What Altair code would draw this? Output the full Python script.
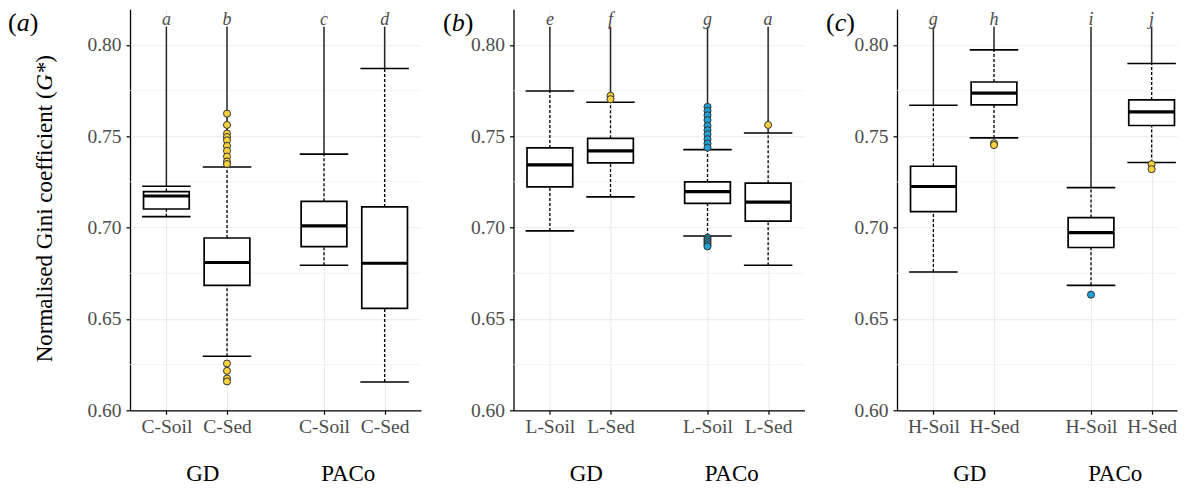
import altair as alt
import pandas as pd

FONT = "Liberation Serif"

# ---------------- data ----------------
prefixes = ["C", "L", "H"]          # panel (a), (b), (c)
tags = ["a", "b", "c"]
methods = ["GD", "PACo"]
types = ["Soil", "Sed"]

# box order per panel: GD-Soil, GD-Sed, PACo-Soil, PACo-Sed
letters = ["a", "b", "c", "d",
           "e", "f", "g", "a",
           "g", "h", "i", "j"]
whisker_low = [0.7060, 0.6296, 0.6794, 0.6155,
               0.6982, 0.7168, 0.6954, 0.6794,
               0.6757, 0.7491, 0.6684, 0.7356]
q1 = [0.7102, 0.6684, 0.6896, 0.6558,
      0.7223, 0.7354, 0.7133, 0.7036,
      0.7088, 0.7672, 0.6891, 0.7559]
median = [0.7173, 0.6809, 0.7009, 0.6805,
          0.7343, 0.7420, 0.7197, 0.7140,
          0.7225, 0.7736, 0.6973, 0.7633]
q3 = [0.7197, 0.6943, 0.7144, 0.7113,
      0.7436, 0.7489, 0.7250, 0.7243,
      0.7336, 0.7797, 0.7055, 0.7699]
whisker_high = [0.7226, 0.7332, 0.7402, 0.7871,
                0.7748, 0.7686, 0.7427, 0.7518,
                0.7670, 0.7973, 0.7219, 0.7898]
outliers = [
    [],
    [0.7624, 0.7562, 0.7515, 0.7496, 0.7478, 0.7447, 0.7420, 0.7389, 0.7362, 0.7348,
     0.6256, 0.6216, 0.6174, 0.6158],
    [],
    [],
    [],
    [0.7721, 0.7703],
    [0.7661, 0.7639, 0.7615, 0.7589, 0.7557, 0.7533, 0.7511, 0.7484, 0.7460, 0.7438,
     0.6945, 0.6935, 0.6925, 0.6915, 0.6905, 0.6897],
    [0.7562],
    [],
    [0.7462, 0.7452],
    [0.6633],
    [0.7347, 0.7320],
]

y_ticks = [0.60, 0.65, 0.70, 0.75, 0.80]
y_minor = [0.625, 0.675, 0.725, 0.775]

YELLOW = "#F8D13F"
BLUE = "#1FA2D6"

# ---------------- layout constants ----------------
Y_DOMAIN = [0.60, 0.8195]
X_MIN, X_SPAN = 0.4, 4.8
GROUP_GAP = 2.6
LINE_TOP = 0.8100
LETTER_Y = 0.8108
W_FULL = 291
WIDTHS = [291, 291, 280]   # last panel is cut at the right edge of the figure
H = 401
SPACING = 92.5
TAG_X = [-122, -70.5, -71]
TAG_W = {"a": 0.5, "b": 0.5, "c": 0.444}


def slot(m, t):
    return 1 + GROUP_GAP * m + t


positions = [slot(m, t) for m in range(2) for t in range(2)]

rows = []
out_rows = []
for i in range(12):
    p, m, t = i // 4, (i % 4) // 2, i % 2
    rows.append(dict(panel=p, pos=slot(m, t), letter=letters[i],
                     low=whisker_low[i], q1=q1[i], med=median[i], q3=q3[i],
                     high=whisker_high[i], method=methods[m], type=types[t]))
    col = BLUE if (methods[m] == "PACo" and types[t] == "Soil") else YELLOW
    for v in outliers[i]:
        out_rows.append(dict(panel=p, pos=slot(m, t), value=v, fill=col))
boxes = pd.DataFrame(rows)
outs = pd.DataFrame(out_rows)


def make_panel(p):
    pre = prefixes[p]
    w = WIDTHS[p]
    x_max = X_MIN + X_SPAN * w / W_FULL
    label_expr = (f"'{pre}-' + ((datum.value < 1.5 || (datum.value > 3 && datum.value < 4))"
                  " ? 'Soil' : 'Sed')")
    xaxis = alt.Axis(values=positions, labelExpr=label_expr, title=None, grid=True,
                     labelPadding=3)
    yaxis = alt.Axis(values=y_ticks, format=".2f", title=None, grid=True, labelPadding=5)
    xs = alt.Scale(domain=[X_MIN, x_max], nice=False, zero=False)
    ys = alt.Scale(domain=Y_DOMAIN, nice=False, zero=False)

    def X(f):
        return alt.X(f"{f}:Q", scale=xs, axis=xaxis)

    def Y(f):
        return alt.Y(f"{f}:Q", scale=ys, axis=yaxis)

    bdf = boxes[boxes.panel == p]
    odf = outs[outs.panel == p]
    base = alt.Chart(bdf).transform_calculate(
        top=f"{LINE_TOP}", ly=f"{LETTER_Y}",
        blo="datum.pos - 0.377", bhi="datum.pos + 0.377",
        clo="datum.pos - 0.40", chi="datum.pos + 0.40")

    minor = alt.Chart(pd.DataFrame({"v": y_minor})).mark_rule(
        color="#f0f0f0", strokeWidth=0.8).encode(y=Y("v"))

    top_line = base.mark_rule(color="#262626", strokeWidth=1.5).encode(
        x=X("pos"), y=Y("high"), y2="top:Q")
    wh_up = base.mark_rule(color="black", strokeWidth=1.3, strokeDash=[3, 2]).encode(
        x=X("pos"), y=Y("q3"), y2="high:Q")
    wh_lo = base.mark_rule(color="black", strokeWidth=1.3, strokeDash=[3, 2]).encode(
        x=X("pos"), y=Y("low"), y2="q1:Q")
    cap_up = base.mark_rule(color="black", strokeWidth=1.6).encode(
        x=X("clo"), x2="chi:Q", y=Y("high"))
    cap_lo = base.mark_rule(color="black", strokeWidth=1.6).encode(
        x=X("clo"), x2="chi:Q", y=Y("low"))
    box = base.mark_rect(fill="white", stroke="black", strokeWidth=1.7).encode(
        x=X("blo"), x2="bhi:Q", y=Y("q1"), y2="q3:Q")
    med = base.mark_rule(color="black", strokeWidth=3.2).encode(
        x=X("blo"), x2="bhi:Q", y=Y("med"))
    pts = alt.Chart(odf).mark_circle(size=50, opacity=1, stroke="#333333",
                                     strokeWidth=1).encode(
        x=X("pos"), y=Y("value"), fill=alt.Fill("fill:N", scale=None))
    lets = base.mark_text(font=FONT, fontStyle="italic", fontSize=18, color="#4d4d4d",
                          baseline="alphabetic").encode(
        x=X("pos"), y=Y("ly"), text="letter:N")

    grp = alt.Chart(pd.DataFrame({"g": methods, "gx": [1.6, 4.0]})).mark_text(
        font=FONT, fontSize=23, color="black", baseline="alphabetic").encode(
        x=X("gx"), y=alt.value(H + 70.5), text="g:N")

    fs = 26
    ty = 21.5
    tx = TAG_X[p]
    tag_style = dict(font=FONT, fontSize=fs, color="black", baseline="alphabetic",
                     align="left")
    tag1 = alt.Chart(pd.DataFrame({"s": ["("]})).mark_text(**tag_style).encode(
        x=alt.value(tx), y=alt.value(ty), text="s:N")
    tag2 = alt.Chart(pd.DataFrame({"s": [tags[p]]})).mark_text(
        fontStyle="italic", **tag_style).encode(
        x=alt.value(tx + 0.333 * fs), y=alt.value(ty), text="s:N")
    tag3 = alt.Chart(pd.DataFrame({"s": [")"]})).mark_text(**tag_style).encode(
        x=alt.value(tx + (0.333 + TAG_W[tags[p]]) * fs), y=alt.value(ty), text="s:N")

    layers = [minor, top_line, wh_up, wh_lo, cap_up, cap_lo, box, med, pts, lets, grp,
              tag1, tag2, tag3]

    if p == 0:
        tstyle = dict(font=FONT, fontSize=23, color="black", baseline="alphabetic",
                      align="left", angle=270)
        start = 353.0
        w1 = 11.803 * 23
        w2 = 1.222 * 23
        t1 = alt.Chart(pd.DataFrame({"s": ["Normalised Gini coefficient ("]})).mark_text(
            **tstyle).encode(x=alt.value(-78), y=alt.value(start), text="s:N")
        t2 = alt.Chart(pd.DataFrame({"s": ["G*"]})).mark_text(
            fontStyle="italic", **tstyle).encode(
            x=alt.value(-78), y=alt.value(start - w1), text="s:N")
        t3 = alt.Chart(pd.DataFrame({"s": [")"]})).mark_text(**tstyle).encode(
            x=alt.value(-78), y=alt.value(start - w1 - w2), text="s:N")
        layers += [t1, t2, t3]

    return alt.layer(*layers).properties(width=w, height=H)


chart = alt.hconcat(make_panel(0), make_panel(1), make_panel(2),
                    spacing=SPACING, bounds="flush").properties(
    padding={"left": 0, "top": 1.3, "right": 0, "bottom": 0}
).configure_view(stroke=None).configure_axis(
    labelFont=FONT, labelFontSize=19.5, labelColor="#4d4d4d",
    domainColor="black", domainWidth=1.3, tickColor="black", tickWidth=1.2,
    tickSize=4, gridColor="#ebebeb", gridWidth=1.1
)

chart.save("out.html", embed_options={"renderer": "svg", "actions": False})
